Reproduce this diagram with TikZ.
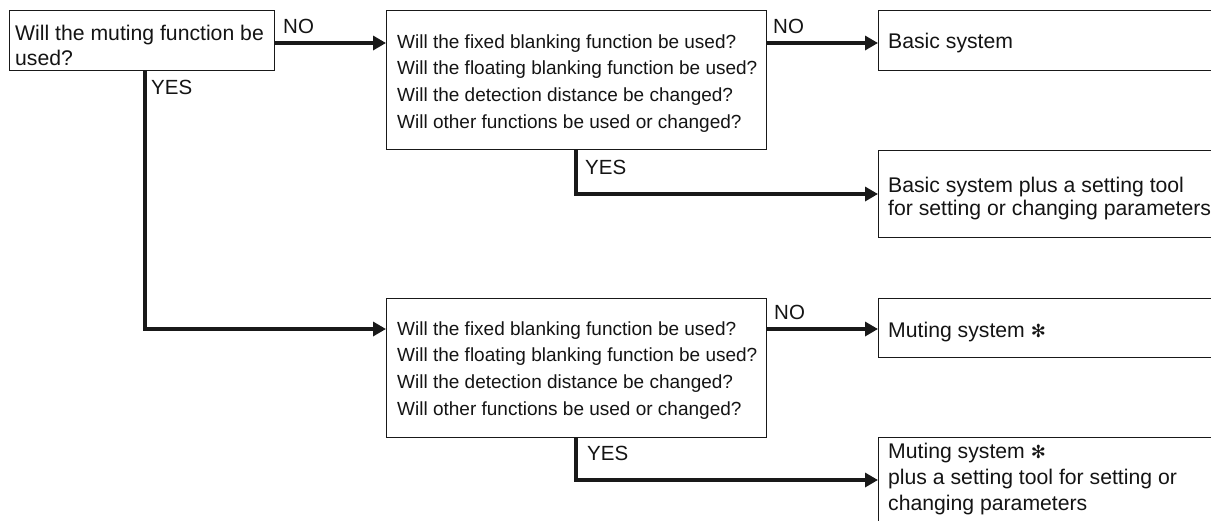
\documentclass[tikz,border=0pt]{standalone}
\usepackage{fontspec}
\setmainfont{Liberation Sans}
\newfontfamily\symfont{DejaVu Sans}
\usetikzlibrary{arrows.meta}
\newcommand\myTopStrut{\rule{0pt}{17pt}}
\newcommand\myAst{{\symfont\fontsize{18}{20}\selectfont ✻}}
\begin{document}
\begin{tikzpicture}[x=1pt,y=-1pt,
  box/.style={draw=black!90, line width=1.2pt, rectangle, anchor=north west, inner sep=0pt},
  big/.style={font=\fontsize{21.2}{25}\selectfont, text=black!92},
  small/.style={font=\fontsize{19}{26.6}\selectfont, text=black!92},
  btxt/.style={anchor=north west, inner sep=0pt, align=left},
  arr/.style={line width=4pt, draw=black!90, -{Triangle[length=13pt,width=14pt]}},
  lbl/.style={font=\fontsize{20.5}{25}\selectfont, text=black!92, anchor=base west, inner sep=0pt}]
\useasboundingbox (0,0) rectangle (1211,520);
\clip (0,0) rectangle (1211,520);
\fill[white] (0,0) rectangle (1211,520);
% boxes
\node[box, minimum width=265pt, minimum height=60pt] (A) at (9,10) {};
\node[box, minimum width=380pt, minimum height=139pt] (B) at (386,10) {};
\node[box, minimum width=380pt, minimum height=139pt] (E) at (386,298) {};
\node[box, minimum width=380pt, minimum height=60pt] (C) at (878,10) {};
\node[box, minimum width=380pt, minimum height=87pt] (D) at (878,150) {};
\node[box, minimum width=380pt, minimum height=59pt] (F) at (878,298) {};
\node[box, minimum width=380pt, minimum height=100pt] (G) at (878,437) {};
% box texts (top of strut = baseline - 17)
\node[btxt, big] (At) at (15,23)
  {\myTopStrut Will the muting function be\\used?};
\node[btxt, small] (Bt) at (397,31)
  {\myTopStrut Will the fixed blanking function be used?\\Will the floating blanking function be used?\\Will the detection distance be changed?\\Will other functions be used or changed?};
\node[btxt, small] (Et) at (397,318)
  {\myTopStrut Will the fixed blanking function be used?\\Will the floating blanking function be used?\\Will the detection distance be changed?\\Will other functions be used or changed?};
\node[btxt, big] (Ct) at (888,31) {\myTopStrut Basic system};
\node[btxt, big, font=\fontsize{21.2}{23}\selectfont] (Dt) at (888,175)
  {\myTopStrut Basic system plus a setting tool\\for setting or changing parameters};
\node[btxt, big] (Ft) at (888,320) {\myTopStrut Muting system \myAst};
\node[btxt, big, font=\fontsize{21.2}{26}\selectfont] (Gt) at (888,441)
  {\myTopStrut Muting system \myAst\\plus a setting tool for setting or\\changing parameters};
% helper coordinates
\coordinate (r1) at (0,43);
\coordinate (r2) at (0,194);
\coordinate (r3) at (0,329);
\coordinate (r4) at (0,480);
\coordinate (xa) at (144.5,0);
\coordinate (xb) at (576,0);
% connectors
\draw[arr] (A.east |- r1) -- (B.west |- r1);
\draw[arr] (B.east |- r1) -- (C.west |- r1);
\draw[arr] (A.south -| xa) -- (xa |- r3) -- (E.west |- r3);
\draw[arr] (B.south -| xb) -- (xb |- r2) -- (D.west |- r2);
\draw[arr] (E.east |- r3) -- (F.west |- r3);
\draw[arr] (E.south -| xb) -- (xb |- r4) -- (G.west |- r4);
% labels
\node[lbl] (no1) at (283,33) {NO};
\node[lbl] (no2) at (773,33) {NO};
\node[lbl] (no3) at (774,319) {NO};
\node[lbl] (yes1) at (151,94) {YES};
\node[lbl] (yes2) at (585,174) {YES};
\node[lbl] (yes3) at (587,460) {YES};
\end{tikzpicture}
\end{document}
